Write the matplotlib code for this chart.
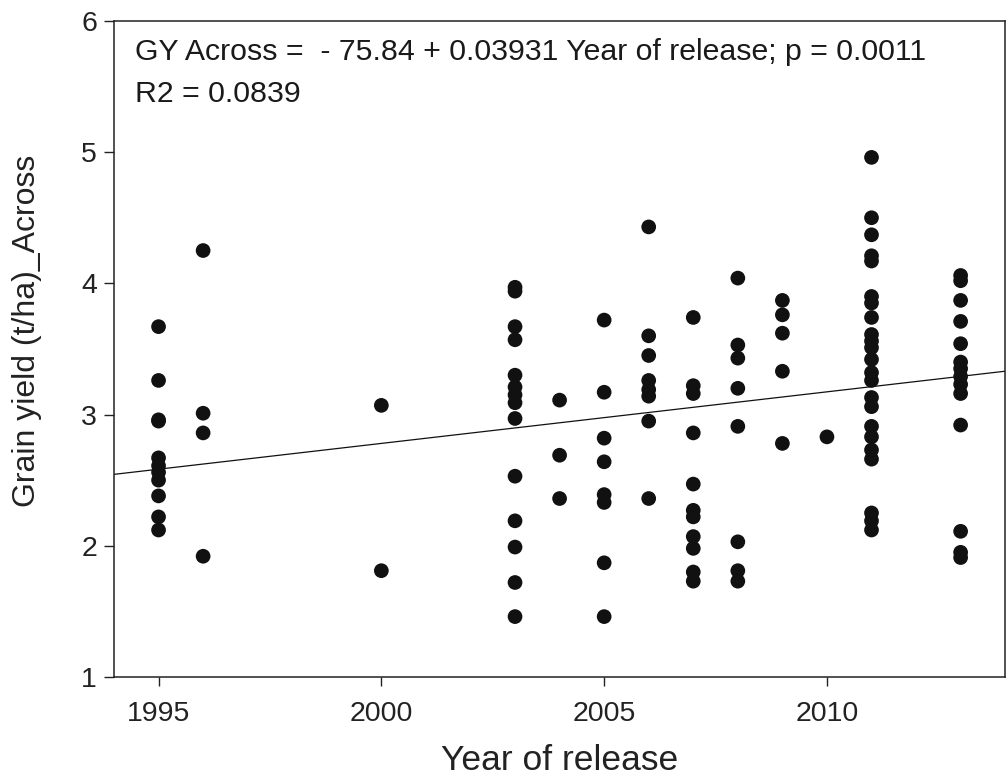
import numpy as np
import matplotlib
matplotlib.use('Agg')
import matplotlib.pyplot as plt

plt.rcParams['font.family'] = ['Liberation Sans', 'DejaVu Sans']

# grain yield across environments, read per release year
gy_1995 = [3.67, 3.26, 2.96, 2.95, 2.67, 2.61, 2.56, 2.50, 2.38, 2.22, 2.12]
gy_1996 = [4.25, 3.01, 2.86, 1.92]
gy_2000 = [3.07, 1.81]
gy_2003 = [3.97, 3.94, 3.67, 3.57, 3.30, 3.21, 3.15, 3.09, 2.97, 2.53, 2.19, 1.99, 1.72, 1.46]
gy_2004 = [3.11, 2.69, 2.36]
gy_2005 = [3.72, 3.17, 2.82, 2.64, 2.39, 2.33, 1.87, 1.46]
gy_2006 = [4.43, 3.60, 3.45, 3.26, 3.19, 3.14, 2.95, 2.36]
gy_2007 = [3.74, 3.22, 3.16, 2.86, 2.47, 2.27, 2.22, 2.07, 1.98, 1.80, 1.73]
gy_2008 = [4.04, 3.53, 3.43, 3.20, 2.91, 2.03, 1.81, 1.73]
gy_2009 = [3.87, 3.76, 3.62, 3.33, 2.78]
gy_2010 = [2.83]
gy_2011 = [4.96, 4.50, 4.37, 4.21, 4.17, 3.90, 3.85, 3.74, 3.61, 3.56, 3.51, 3.42,
           3.32, 3.26, 3.13, 3.06, 2.91, 2.83, 2.73, 2.66, 2.25, 2.19, 2.12]
gy_2013 = [4.06, 4.02, 3.87, 3.71, 3.54, 3.40, 3.35, 3.29, 3.23, 3.16, 2.92, 2.11, 1.95, 1.91]

groups = {1995: gy_1995, 1996: gy_1996, 2000: gy_2000, 2003: gy_2003, 2004: gy_2004,
          2005: gy_2005, 2006: gy_2006, 2007: gy_2007, 2008: gy_2008, 2009: gy_2009,
          2010: gy_2010, 2011: gy_2011, 2013: gy_2013}

intercept = -75.84
slope = 0.03931
x_ticks = [1995, 2000, 2005, 2010]
y_ticks = [1, 2, 3, 4, 5, 6]

years = np.concatenate([[yr] * len(v) for yr, v in groups.items()])
yields = np.concatenate([v for v in groups.values()])

fig = plt.figure(figsize=(10.07, 7.75), dpi=100)
ax = fig.add_axes([0.1132, 0.1265, 0.885, 0.8465])

ax.scatter(years, yields, s=112, color='#111111', edgecolors='none', zorder=3)

xl = np.array([1994, 2014])
ax.plot(xl, intercept + slope * xl, color='#111111', lw=0.9, zorder=2)

ax.set_xlim(1994, 2014)
ax.set_ylim(1, 6)
ax.set_xticks(x_ticks)
ax.set_yticks(y_ticks)

for s in ax.spines.values():
    s.set_linewidth(1.1)
    s.set_color('#222222')
ax.tick_params(axis='x', direction='out', length=6.5, width=1.0, pad=11, labelsize=20.5, colors='#222222')
ax.tick_params(axis='y', direction='out', length=7.2, width=1.0, pad=5, labelsize=20.5, colors='#222222')

ax.set_xlabel('Year of release', fontsize=25.5, color='#222222', labelpad=12)
ax.set_ylabel('Grain yield (t/ha)_Across', fontsize=23, color='#222222')
ax.yaxis.set_label_coords(-0.081, 0.527)

ax.text(0.0236, 0.9405, 'GY Across =  - 75.84 + 0.03931 Year of release; p = 0.0011',
        transform=ax.transAxes, fontsize=21.8, va='baseline', color='#1a1a1a')
ax.text(0.0236, 0.877, 'R2 = 0.0839',
        transform=ax.transAxes, fontsize=21.8, va='baseline', color='#1a1a1a')

fig.savefig('out.png', dpi=100)
